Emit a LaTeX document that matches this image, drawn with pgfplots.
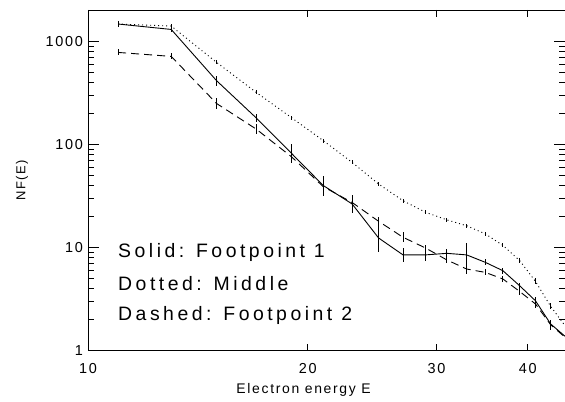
\documentclass[border=0pt]{standalone}
\usepackage{fontspec}
\setmainfont{Liberation Sans}[LetterSpace=12]
\newfontfamily\legfont{Liberation Sans}[LetterSpace=18]
\usepackage{pgfplots}
\pgfplotsset{compat=1.18}

\begin{document}
\begin{tikzpicture}
\path[use as bounding box] (-88bp,-51bp) rectangle (477bp,350.7bp);
\begin{axis}[
    at={(0,0)}, anchor=south west,
    scale only axis, width=477bp, height=340.7bp,
    xmode=log, ymode=log,
    xmin=10, xmax=45, ymin=1, ymax=2018,
    xtick={10,20,30,40}, xticklabels={10,20,30,40},
    minor xtick={},
    ytick={1,10,100,1000}, yticklabels={1,10,100,1000},
    minor ytick={2,3,4,5,6,7,8,9,20,30,40,50,60,70,80,90,200,300,400,500,600,700,800,900,2000},
    tick align=inside,
    major tick length=11bp, minor tick length=6bp,
    xtick style={/pgfplots/major tick length=7bp},
    tick style={black, line width=0.8bp},
    axis line style={draw=black, line width=0.9bp},
    font=\fontsize{14}{16}\selectfont,
    tick label style={font=\fontsize{14.5}{16}\selectfont},
    xticklabel style={anchor=center, yshift=-18bp},
    yticklabel style={xshift=-1.5bp},
    xlabel={Electron energy E},
    xlabel style={at={(axis description cs:0.452,0)}, anchor=center, yshift=-39bp},
    ylabel={NF(E)},
    ylabel style={at={(axis description cs:-0.1384,0.5)}, anchor=center, font=\fontsize{13}{15}\selectfont},
    every axis plot/.append style={black, line width=0.9bp, mark=none},
    error bars/y dir=both,
    error bars/y explicit relative,
    error bars/error mark=none,
    error bars/error bar style={solid, line width=0.9bp},
]
% Solid: Footpoint 1
\addplot[solid] coordinates {
    (11,1475) += (0,0.069) -= (0,0.065)
    (13,1307) += (0,0.069) -= (0,0.065)
    (15,416)  += (0,0.118) -= (0,0.106)
    (17,181)  += (0,0.094) -= (0,0.086)
    (19,82)   += (0,0.223) -= (0,0.182)
    (21,40)   += (0,0.250) -= (0,0.200)
    (23,26.5) += (0,0.223) -= (0,0.182)
    (25,12.4) += (0,0.367) -= (0,0.269)
    (27,8.5)  += (0,0.169) -= (0,0.145)
    (29,8.5)  += (0,0.143) -= (0,0.125)
    (31,8.8)  += (0,0.094) -= (0,0.086)
    (33,8.5)  += (0,0.307) -= (0,0.235)
    (35,7.2)  += (0,0.069) -= (0,0.065)
    (37,5.97) += (0,0.069) -= (0,0.065)
    (39,4.27) += (0,0.069) -= (0,0.065)
    (41,3.05) += (0,0.094) -= (0,0.086)
    (43,1.82) += (0,0.094) -= (0,0.086)
    (45,1.38) += (0,0) -= (0,0)
};
% Dotted: Middle
\addplot[dash pattern=on 1bp off 3bp] coordinates {
    (11,1475) += (0,0.046) -= (0,0.044)
    (13,1410) += (0,0.046) -= (0,0.044)
    (15,626)  += (0,0.046) -= (0,0.044)
    (17,320)  += (0,0.046) -= (0,0.044)
    (19,182)  += (0,0.046) -= (0,0.044)
    (21,109)  += (0,0.046) -= (0,0.044)
    (23,67)   += (0,0.046) -= (0,0.044)
    (25,41.4) += (0,0.046) -= (0,0.044)
    (27,28.5) += (0,0.046) -= (0,0.044)
    (29,22)   += (0,0.046) -= (0,0.044)
    (31,18.6) += (0,0.046) -= (0,0.044)
    (33,16.3) += (0,0.046) -= (0,0.044)
    (35,13.6) += (0,0.046) -= (0,0.044)
    (37,10.5) += (0,0.046) -= (0,0.044)
    (39,7.5)  += (0,0.046) -= (0,0.044)
    (41,4.7)  += (0,0.069) -= (0,0.065)
    (43,2.7)  += (0,0.069) -= (0,0.065)
    (45,1.75) += (0,0) -= (0,0)
};
% Dashed: Footpoint 2
\addplot[dash pattern=on 8bp off 5bp] coordinates {
    (11,782)  += (0,0.069) -= (0,0.065)
    (13,716)  += (0,0.069) -= (0,0.065)
    (15,250)  += (0,0.143) -= (0,0.125)
    (17,141)  += (0,0.118) -= (0,0.106)
    (19,76)   += (0,0.143) -= (0,0.125)
    (21,39)   += (0,0.143) -= (0,0.125)
    (23,27.4) += (0,0.169) -= (0,0.145)
    (25,18)   += (0,0.094) -= (0,0.086)
    (27,12.6) += (0,0.118) -= (0,0.106)
    (29,9.9)  += (0,0.069) -= (0,0.065)
    (31,7.6)  += (0,0.069) -= (0,0.065)
    (33,6.2)  += (0,0.118) -= (0,0.106)
    (35,5.75) += (0,0.069) -= (0,0.065)
    (37,4.96) += (0,0.069) -= (0,0.065)
    (39,3.76) += (0,0.094) -= (0,0.086)
    (41,2.84) += (0,0.094) -= (0,0.086)
    (43,1.79) += (0,0.118) -= (0,0.106)
    (45,1.35) += (0,0) -= (0,0)
};
\node[anchor=base west, inner sep=0pt, font=\legfont\fontsize{19.5}{22}\selectfont] at (rel axis cs:0.0629,0.274) {Solid: Footpoint 1};
\node[anchor=base west, inner sep=0pt, font=\legfont\fontsize{19.5}{22}\selectfont] at (rel axis cs:0.0629,0.178) {Dotted: Middle};
\node[anchor=base west, inner sep=0pt, font=\legfont\fontsize{19.5}{22}\selectfont] at (rel axis cs:0.0629,0.090) {Dashed: Footpoint 2};
\end{axis}
\end{tikzpicture}
\end{document}
